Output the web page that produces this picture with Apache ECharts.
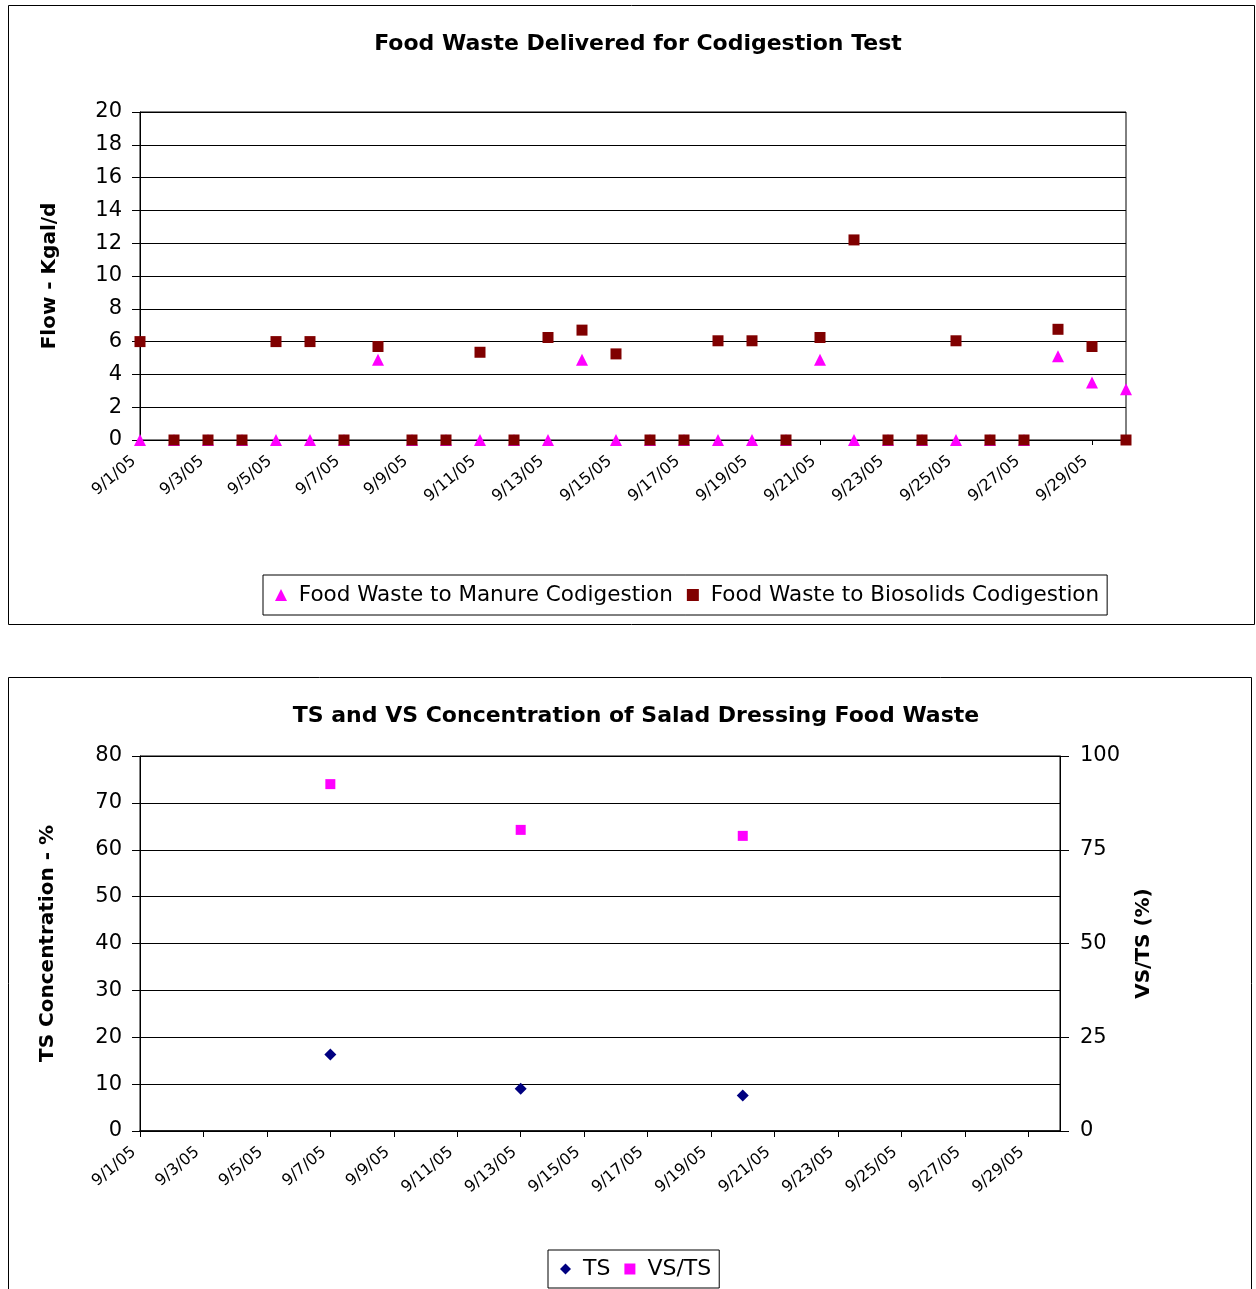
<!DOCTYPE html>
<html><head><meta charset="utf-8">
<script src="https://cdn.jsdelivr.net/npm/echarts@6/dist/echarts.min.js"></script>
<style>html,body{margin:0;padding:0;background:#fff}#c{width:1256px;height:1289px}</style>
</head><body><div id="c"></div>
<script>
const dates = ['9/1/05','9/2/05','9/3/05','9/4/05','9/5/05','9/6/05','9/7/05','9/8/05','9/9/05','9/10/05',
 '9/11/05','9/12/05','9/13/05','9/14/05','9/15/05','9/16/05','9/17/05','9/18/05','9/19/05','9/20/05',
 '9/21/05','9/22/05','9/23/05','9/24/05','9/25/05','9/26/05','9/27/05','9/28/05','9/29/05','9/30/05'];
const manure = [0,0,0,0,0,0,0,4.9,0,0, 0,0,0,4.9,0,0,0,0,0,0, 4.9,0,0,0,0,0,0,5.1,3.5,3.1];
const biosolids = [6,0,0,0,6,6,0,5.7,0,0, 5.35,0,6.25,6.7,5.25,0,0,6.05,6.05,0, 6.25,12.2,0,0,6.05,0,0,6.75,5.7,0];
const tsDates = ['9/7/05','9/13/05','9/20/05'];
const tsValues = [16.3, 9.0, 7.6];
const vsTsValues = [92.5, 80.3, 78.7];
const flowTicks = {min:0, max:20, interval:2};
const tsTicks = {min:0, max:80, interval:10};
const vsTicks = {min:0, max:100, interval:25};

const FONT = '"DejaVu Sans", Arial, sans-serif';
const chart = echarts.init(document.getElementById('c'), null, {renderer:'canvas'});
const xLabel = {rotate:40, fontSize:16, color:'#000', fontFamily:FONT, interval:1, margin:14, padding:[0,8,0,0]};
const yLabel = {fontSize:21, color:'#000', fontFamily:FONT, margin:18};
const nameStyle = {fontSize:20, fontWeight:'bold', color:'#000', fontFamily:FONT};
chart.setOption({
  animation:false,
  backgroundColor:'#fff',
  textStyle:{fontFamily:FONT},
  graphic:[
    {type:'rect', shape:{x:8.5,y:5.5,width:1246,height:619}, style:{fill:null, stroke:'#000', lineWidth:1}},
    {type:'rect', shape:{x:8.5,y:677.5,width:1243,height:640}, style:{fill:null, stroke:'#000', lineWidth:1}}
  ],
  title:[
    {text:'Food Waste Delivered for Codigestion Test', left:633, textAlign:'center', top:28, textStyle:{fontSize:22, fontWeight:'bold', color:'#000', fontFamily:FONT}},
    {text:'TS and VS Concentration of Salad Dressing Food Waste', left:631, textAlign:'center', top:700, textStyle:{fontSize:22, fontWeight:'bold', color:'#000', fontFamily:FONT}}
  ],
  legend:[
    {left:263, top:575, height:42, padding:[9,8,9,12], itemGap:14, itemWidth:12, itemHeight:12,
     borderColor:'#000', borderWidth:1, formatter:' {name}', textStyle:{fontSize:21.5, color:'#000', fontFamily:FONT},
     data:[{name:'Food Waste to Manure Codigestion', icon:'triangle'},{name:'Food Waste to Biosolids Codigestion', icon:'rect'}]},
    {left:548, top:1250, padding:[8,8,8,12], itemGap:14, itemWidth:11, itemHeight:11,
     borderColor:'#000', borderWidth:1, formatter:' {name}', textStyle:{fontSize:22, color:'#000', fontFamily:FONT},
     data:[{name:'TS', icon:'diamond'},{name:'VS/TS', icon:'rect'}]}
  ],
  grid:[
    {left:140, top:112, width:986, height:328, show:true, borderColor:'#000', borderWidth:1, containLabel:false},
    {left:140, top:756, width:920, height:375, show:true, borderColor:'#000', borderWidth:1, containLabel:false}
  ],
  xAxis:[
    {gridIndex:0, type:'category', data:dates, boundaryGap:false,
     axisLine:{lineStyle:{color:'#000', width:1}}, axisTick:{interval:3, length:5, inside:false, lineStyle:{color:'#000'}},
     axisLabel:xLabel, splitLine:{show:false}},
    {gridIndex:1, type:'category', data:dates, boundaryGap:false,
     axisLine:{lineStyle:{color:'#000', width:1.5}}, axisTick:{interval:1, length:6, lineStyle:{color:'#000'}},
     axisLabel:xLabel, splitLine:{show:false}}
  ],
  yAxis:[
    {gridIndex:0, type:'value', min:flowTicks.min, max:flowTicks.max, interval:flowTicks.interval,
     name:'Flow - Kgal/d', nameLocation:'middle', nameGap:80, nameRotate:90, nameTextStyle:nameStyle,
     axisLine:{show:true, lineStyle:{color:'#000'}}, axisTick:{show:true, length:8, lineStyle:{color:'#000'}},
     axisLabel:yLabel, splitLine:{lineStyle:{color:'#000', width:1}}},
    {gridIndex:1, type:'value', min:tsTicks.min, max:tsTicks.max, interval:tsTicks.interval,
     name:'TS Concentration - %', nameLocation:'middle', nameGap:82, nameRotate:90, nameTextStyle:nameStyle,
     axisLine:{show:true, lineStyle:{color:'#000'}}, axisTick:{show:true, length:8, lineStyle:{color:'#000'}},
     axisLabel:yLabel, splitLine:{lineStyle:{color:'#000', width:1}}},
    {gridIndex:1, type:'value', position:'right', min:vsTicks.min, max:vsTicks.max, interval:vsTicks.interval,
     name:'VS/TS (%)', nameLocation:'middle', nameGap:74, nameRotate:90, nameTextStyle:nameStyle,
     axisLine:{show:true, lineStyle:{color:'#000'}}, axisTick:{show:true, length:9, lineStyle:{color:'#000'}},
     axisLabel:{fontSize:21, color:'#000', fontFamily:FONT, margin:20}, splitLine:{show:false}}
  ],
  series:[
    {name:'Food Waste to Manure Codigestion', type:'scatter', xAxisIndex:0, yAxisIndex:0,
     symbol:'triangle', symbolSize:12, itemStyle:{color:'#FF00FF', opacity:1}, z:2,
     data:dates.map((d,i)=>[d, manure[i]])},
    {name:'Food Waste to Biosolids Codigestion', type:'scatter', xAxisIndex:0, yAxisIndex:0,
     symbol:'rect', symbolSize:11, itemStyle:{color:'#800000', opacity:1}, z:3,
     data:dates.map((d,i)=>[d, biosolids[i]])},
    {name:'TS', type:'scatter', xAxisIndex:1, yAxisIndex:1,
     symbol:'diamond', symbolSize:12, itemStyle:{color:'#000080', opacity:1},
     data:tsDates.map((d,i)=>[d, tsValues[i]])},
    {name:'VS/TS', type:'scatter', xAxisIndex:1, yAxisIndex:2,
     symbol:'rect', symbolSize:10, itemStyle:{color:'#FF00FF', opacity:1},
     data:tsDates.map((d,i)=>[d, vsTsValues[i]])}
  ]
});
</script></body></html>
